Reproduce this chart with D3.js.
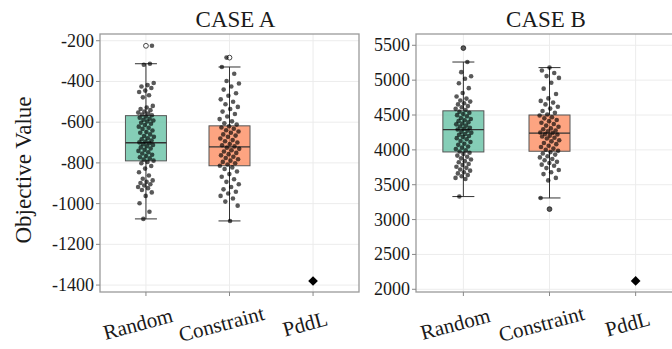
<!DOCTYPE html>
<html>
<head>
<meta charset="utf-8">
<script src="https://cdn.jsdelivr.net/npm/d3@7"></script>
<style>
  body { margin: 0; background: #fff; }
  text { font-family: "Liberation Serif", "Times New Roman", serif; fill: #1a1a1a; }
</style>
</head>
<body>
<script>
const categories = ['Random', 'Constraint', 'PddL'];
const boxFills = ['#66c2a5', '#fc8d62'];

// CASE A
const aTicks = [-200, -400, -600, -800, -1000, -1200, -1400];
const aQ1 = [-790, -814];
const aMedian = [-701, -721];
const aQ3 = [-568, -618];
const aWhiskerLow = [-1075, -1085];
const aWhiskerHigh = [-313, -329];
const aOutliers = [[-225], [-283]];
const aPddL = -1380;
const aRandom = [-225, -313, -318, -408, -418, -425, -432, -445, -452, -468, -478, -520, -528, -535, -541,
  -548, -553, -558, -562, -566, -572, -578, -583, -588, -592, -597, -603, -608, -614, -622, -628, -633,
  -641, -648, -652, -660, -668, -672, -679, -684, -690, -695, -699, -703, -708, -712, -718, -724, -729,
  -736, -741, -748, -754, -760, -766, -772, -778, -784, -789, -795, -802, -815, -828, -846, -862, -878,
  -886, -893, -899, -905, -911, -918, -924, -933, -945, -962, -998, -1040, -1075];
const aConstraint = [-283, -329, -362, -398, -410, -425, -440, -458, -470, -488, -500, -512, -525, -535,
  -548, -560, -572, -585, -596, -605, -612, -620, -626, -632, -640, -646, -652, -660, -666, -672, -680,
  -688, -694, -700, -707, -713, -719, -725, -731, -738, -744, -751, -757, -763, -770, -776, -782, -789,
  -795, -802, -808, -814, -822, -830, -842, -855, -868, -880, -893, -905, -918, -930, -942, -950, -962,
  -975, -990, -1010, -1085];

// CASE B
const bTicks = [5500, 5000, 4500, 4000, 3500, 3000, 2500, 2000];
const bQ1 = [3970, 3980];
const bMedian = [4290, 4240];
const bQ3 = [4560, 4500];
const bWhiskerLow = [3330, 3310];
const bWhiskerHigh = [5260, 5180];
const bOutliers = [[5460], [3150]];
const bPddL = 2120;
const bRandom = [5460, 5260, 5115, 5055, 5020, 4955, 4885, 4815, 4765, 4735, 4708, 4692, 4668, 4652,
  4628, 4612, 4588, 4572, 4548, 4532, 4514, 4498, 4482, 4458, 4442, 4424, 4412, 4396, 4378, 4366,
  4348, 4336, 4318, 4302, 4291, 4276, 4258, 4247, 4228, 4216, 4198, 4186, 4168, 4152, 4128, 4112,
  4088, 4072, 4048, 4032, 4012, 3992, 3976, 3958, 3942, 3918, 3902, 3878, 3862, 3838, 3822, 3798,
  3782, 3758, 3742, 3718, 3702, 3678, 3662, 3638, 3622, 3598, 3582, 3330];
const bConstraint = [5180, 5138, 5102, 5058, 5032, 4962, 4878, 4802, 4738, 4702, 4678, 4652, 4618,
  4592, 4558, 4532, 4508, 4492, 4468, 4452, 4428, 4412, 4388, 4372, 4348, 4332, 4308, 4296, 4278,
  4266, 4248, 4241, 4228, 4221, 4204, 4192, 4174, 4162, 4138, 4122, 4098, 4082, 4058, 4042, 4018,
  4002, 3986, 3968, 3948, 3932, 3908, 3892, 3868, 3852, 3828, 3812, 3788, 3772, 3738, 3712, 3678,
  3652, 3598, 3562, 3310, 3150];

const W = 672, H = 349;
const svg = d3.select('body').append('svg').attr('width', W).attr('height', H);

const panels = [
  { title: 'CASE A', x0: 100, x1: 359, domain: [-1434, -167], ticks: aTicks,
    q1: aQ1, med: aMedian, q3: aQ3, lo: aWhiskerLow, hi: aWhiskerHigh, out: aOutliers,
    pts: [aRandom, aConstraint], pddl: aPddL, outShift: [6, -3] },
  { title: 'CASE B', x0: 416, x1: 683, domain: [1961, 5662], ticks: bTicks,
    q1: bQ1, med: bMedian, q3: bQ3, lo: bWhiskerLow, hi: bWhiskerHigh, out: bOutliers,
    pts: [bRandom, bConstraint], pddl: bPddL, outShift: [0, 0] }
];

const plotTop = 34, plotBottom = 292;

function jitter(i, k) {
  // deterministic spread in [-1, 1]
  const f = (i * 0.618034 + k * 0.37 + 0.13) % 1;
  return f * 2 - 1;
}

panels.forEach(p => {
  const g = svg.append('g');
  const x = d3.scalePoint().domain(categories).range([p.x0, p.x1]).padding(0.55);
  const y = d3.scaleLinear().domain(p.domain).range([plotBottom, plotTop]);

  g.append('rect')
    .attr('x', p.x0).attr('y', plotTop)
    .attr('width', p.x1 - p.x0).attr('height', plotBottom - plotTop)
    .attr('fill', '#fff');

  // grid
  g.selectAll('.hg').data(p.ticks).join('line')
    .attr('x1', p.x0).attr('x2', p.x1)
    .attr('y1', d => y(d)).attr('y2', d => y(d))
    .attr('stroke', '#ececec').attr('stroke-width', 1);
  g.selectAll('.vg').data(categories).join('line')
    .attr('x1', d => x(d)).attr('x2', d => x(d))
    .attr('y1', plotTop).attr('y2', plotBottom)
    .attr('stroke', '#ececec').attr('stroke-width', 1);

  const bw = 41;
  [0, 1].forEach(k => {
    const cx = x(categories[k]);
    // whiskers
    g.append('line')
      .attr('x1', cx).attr('x2', cx)
      .attr('y1', y(p.lo[k])).attr('y2', y(p.hi[k]))
      .attr('stroke', '#333').attr('stroke-width', 1);
    [p.lo[k], p.hi[k]].forEach(v => {
      g.append('line')
        .attr('x1', cx - 11).attr('x2', cx + 11)
        .attr('y1', y(v)).attr('y2', y(v))
        .attr('stroke', '#333').attr('stroke-width', 1);
    });
    // box
    g.append('rect')
      .attr('x', cx - bw / 2).attr('y', y(p.q3[k]))
      .attr('width', bw).attr('height', y(p.q1[k]) - y(p.q3[k]))
      .attr('fill', boxFills[k]).attr('fill-opacity', 0.8)
      .attr('stroke', '#555').attr('stroke-width', 1);
    g.append('line')
      .attr('x1', cx - bw / 2).attr('x2', cx + bw / 2)
      .attr('y1', y(p.med[k])).attr('y2', y(p.med[k]))
      .attr('stroke', '#333').attr('stroke-width', 1.3);
    // outliers (open)
    g.selectAll(null).data(p.out[k]).join('circle')
      .attr('cx', cx).attr('cy', d => y(d)).attr('r', 2.4)
      .attr('fill', '#fff').attr('stroke', '#333').attr('stroke-width', 0.9);
    // jittered points
    const jw = k === 0 ? 8 : 10;
    g.selectAll(null).data(p.pts[k]).join('circle')
      .attr('cx', d => cx + (p.out[k].includes(d) ? p.outShift[k] : jitter(p.pts[k].indexOf(d), k) * jw))
      .attr('cy', d => y(d)).attr('r', 2.3)
      .attr('fill', '#000').attr('fill-opacity', 0.65);
  });

  // PddL single value
  const dx = x('PddL'), dy = y(p.pddl);
  g.append('path')
    .attr('d', d3.symbol(d3.symbolDiamond2, 60)())
    .attr('transform', `translate(${dx},${dy})`)
    .attr('fill', '#000');

  // frame
  g.append('rect')
    .attr('x', p.x0).attr('y', plotTop)
    .attr('width', p.x1 - p.x0).attr('height', plotBottom - plotTop)
    .attr('fill', 'none').attr('stroke', '#9a9a9a').attr('stroke-width', 1.3);

  // y ticks
  g.selectAll('.yt').data(p.ticks).join('line')
    .attr('x1', p.x0 - 4).attr('x2', p.x0)
    .attr('y1', d => y(d)).attr('y2', d => y(d))
    .attr('stroke', '#888');
  g.selectAll('.yl').data(p.ticks).join('text')
    .attr('x', p.x0 - 6).attr('y', d => y(d))
    .attr('text-anchor', 'end').attr('dominant-baseline', 'central')
    .attr('font-size', 18)
    .text(d => d < 0 ? '-' + Math.abs(d) : d);

  // x ticks
  g.selectAll('.xt').data(categories).join('line')
    .attr('x1', d => x(d)).attr('x2', d => x(d))
    .attr('y1', plotBottom).attr('y2', plotBottom + 4)
    .attr('stroke', '#888');
  g.selectAll('.xl').data(categories).join('text')
    .attr('transform', d => `translate(${x(d) - 8},${324}) rotate(-15)`)
    .attr('text-anchor', 'middle').attr('dominant-baseline', 'central')
    .attr('font-size', 21)
    .text(d => d);

  // title
  g.append('text')
    .attr('x', (p.x0 + Math.min(p.x1, 676)) / 2 + (p.title === 'CASE A' ? 6 : 0))
    .attr('y', 27)
    .attr('text-anchor', 'middle')
    .attr('font-size', 23)
    .text(p.title);
});

svg.append('text')
  .attr('transform', 'translate(31,170) rotate(-90)')
  .attr('text-anchor', 'middle')
  .attr('font-size', 23)
  .text('Objective Value');
</script>
</body>
</html>
